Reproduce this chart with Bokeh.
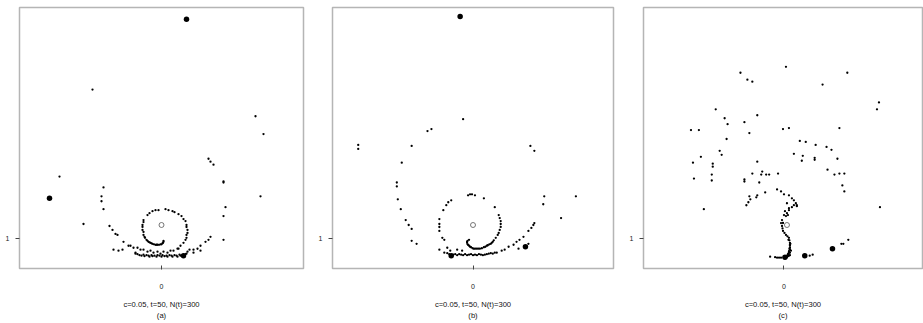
from bokeh.plotting import figure
from bokeh.layouts import row
from bokeh.models import FixedTicker, Range1d
from bokeh.embed import file_html
from bokeh.resources import INLINE

# ---------------- data (x, y) ----------------
labels = ["c=0.05, t=50, N(t)=300\n(a)", "c=0.05, t=50, N(t)=300\n(b)", "c=0.05, t=50, N(t)=300\n(c)"]
x_ticks = [0]
y_ticks = [1]

a_small = [
    (-0.69, 2.51), (0.94, 2.24), (1.02, 2.06), (0.47, 1.81), (0.49, 1.78), (0.52, 1.75), (-1.02, 1.63),
    (0.62, 1.58), (0.62, 1.57), (-0.58, 1.52), (-0.60, 1.43), (-0.60, 1.38), (-0.58, 1.30), (0.99, 1.43),
    (0.64, 1.32), (0.62, 1.23), (-0.78, 1.15), (0.62, 0.99),
    (-0.52, 1.13), (-0.49, 1.09), (-0.46, 1.05), (-0.44, 1.04), (-0.38, 0.97), (-0.33, 0.93), (-0.48, 0.89),
    (-0.43, 0.88), (-0.39, 0.89), (-0.31, 0.93), (-0.28, 0.91), (-0.26, 0.86), (-0.21, 0.89), (-0.14, 0.87),
    (-0.08, 0.86), (-0.01, 0.85), (0.06, 0.86), (0.12, 0.88), (0.17, 0.90),
    (0.49, 1.02), (0.47, 0.99), (0.44, 0.97), (0.39, 0.93), (0.36, 0.90), (0.32, 0.89), (0.32, 0.86),
    (0.39, 0.88), (0.26, 0.87), (0.28, 0.89),
    (-0.14, 1.24), (-0.12, 1.26), (-0.09, 1.28), (-0.06, 1.29), (-0.03, 1.29), (0.04, 1.30), (0.07, 1.29),
    (0.11, 1.28), (0.13, 1.27), (0.17, 1.25), (0.20, 1.23), (0.22, 1.20), (0.24, 1.18), (0.25, 1.14),
    (0.25, 1.12), (0.26, 1.09), (0.26, 1.06), (0.25, 1.04), (0.25, 1.01), (0.24, 0.99), (0.22, 0.96),
    (0.19, 0.93), (0.16, 0.90), (0.09, 0.88), (0.02, 0.87), (-0.04, 0.87), (-0.11, 0.88), (-0.18, 0.89),
    (-0.24, 0.91),
    (-0.18, 1.19), (-0.18, 1.17), (-0.19, 1.14), (-0.19, 1.12), (-0.19, 1.09), (-0.18, 1.07), (-0.18, 1.04),
    (-0.17, 1.02), (-0.15, 0.99), (-0.13, 0.97), (-0.11, 0.96), (-0.09, 0.95), (-0.06, 0.94), (-0.04, 0.94),
    (-0.01, 0.945), (0.01, 0.955), (0.02, 0.97), (0.02, 0.98), (-0.165, 1.01), (-0.14, 0.98), (-0.12, 0.965),
    (-0.10, 0.955), (-0.075, 0.945), (-0.05, 0.94), (-0.025, 0.94), (0.0, 0.945), (0.015, 0.96),
    (-0.26, 0.85), (-0.24, 0.845), (-0.22, 0.835), (-0.20, 0.83), (-0.18, 0.84), (-0.17, 0.825), (-0.15, 0.835),
    (-0.13, 0.83), (-0.12, 0.82), (-0.10, 0.835), (-0.09, 0.825), (-0.07, 0.83), (-0.05, 0.82), (-0.04, 0.835),
    (-0.02, 0.83), (0.0, 0.82), (0.01, 0.835), (0.03, 0.825), (0.05, 0.83), (0.06, 0.82), (0.08, 0.835),
    (0.10, 0.83), (0.11, 0.82), (0.13, 0.835), (0.15, 0.83), (0.16, 0.82), (0.18, 0.84), (0.19, 0.83),
    (0.21, 0.825), (0.23, 0.835), (0.24, 0.845), (0.25, 0.85),
]
a_big = [(0.25, 3.22), (-1.12, 1.41), (0.22, 0.83)]
a_ref = [(0.0, 1.14)]

b_small = [
    (-0.10, 2.21), (-0.46, 2.09), (-0.42, 2.11), (-1.16, 1.95), (-1.16, 1.91), (-0.62, 1.94), (0.58, 1.94),
    (0.62, 1.89), (-0.72, 1.77), (-0.77, 1.57), (-0.77, 1.53), (-0.76, 1.40), (-0.73, 1.30), (-0.68, 1.19),
    (-0.65, 1.14), (-0.62, 1.10), (-0.62, 0.98), (-0.57, 0.95), (0.72, 1.43), (1.04, 1.43), (0.71, 1.35),
    (0.89, 1.21), (0.62, 1.16), (0.61, 1.14),
    (0.56, 1.08), (0.51, 1.02), (0.47, 0.99), (0.44, 0.97), (0.41, 0.94), (0.36, 0.92), (0.32, 0.89),
    (0.29, 0.88), (0.46, 0.90), (0.56, 0.95), (0.24, 0.86), (0.59, 1.11),
    (-0.05, 1.44), (-0.03, 1.45), (-0.01, 1.45), (0.02, 1.44), (0.11, 1.41), (0.22, 1.32),
    (0.26, 1.24), (0.27, 1.21), (0.28, 1.18), (0.28, 1.15), (0.28, 1.12), (0.27, 1.09), (0.26, 1.06),
    (0.25, 1.04), (0.23, 1.01),
    (0.20, 0.97), (0.19, 0.96), (0.165, 0.945), (0.14, 0.93), (0.11, 0.915), (0.07, 0.90), (0.04, 0.90),
    (0.01, 0.90), (-0.02, 0.915), (-0.04, 0.93), (-0.055, 0.945), (-0.06, 0.96), (-0.055, 0.98), (-0.04, 0.99),
    (0.18, 0.95), (0.15, 0.935), (0.125, 0.92), (0.09, 0.905), (0.055, 0.90), (0.025, 0.90), (-0.005, 0.905),
    (-0.03, 0.92), (-0.05, 0.94), (-0.06, 0.97), (0.21, 0.985),
    (-0.22, 1.39), (-0.25, 1.37), (-0.27, 1.34), (-0.30, 1.29), (-0.34, 1.20), (-0.34, 1.15), (-0.34, 1.12),
    (-0.34, 1.08), (-0.31, 1.01), (-0.29, 0.99),
    (-0.34, 0.89), (-0.29, 0.86), (-0.23, 0.88), (-0.16, 0.89), (-0.11, 0.88), (-0.26, 0.91),
    (-0.26, 0.855), (-0.24, 0.845), (-0.20, 0.84), (-0.18, 0.845), (-0.16, 0.835), (-0.14, 0.845), (-0.12, 0.84),
    (-0.10, 0.835), (-0.08, 0.845), (-0.06, 0.835), (-0.04, 0.84), (-0.02, 0.845), (0.0, 0.835), (0.02, 0.84),
    (0.04, 0.835), (0.06, 0.845), (0.08, 0.84), (0.10, 0.835), (0.12, 0.84), (0.14, 0.845), (0.16, 0.85),
    (0.18, 0.855), (0.20, 0.85), (0.22, 0.86),
]
b_big = [(-0.13, 3.25), (-0.22, 0.83), (0.53, 0.92)]
b_ref = [(0.0, 1.14)]

c_small = [
    (0.02, 2.74), (-0.44, 2.68), (0.64, 2.68), (-0.37, 2.61), (-0.32, 2.59), (0.39, 2.56), (0.96, 2.38),
    (0.94, 2.31), (-0.69, 2.31), (-0.60, 2.22), (-0.27, 2.25), (-0.57, 2.16), (-0.40, 2.18), (-0.94, 2.10),
    (-0.86, 2.10), (-0.35, 2.07), (-0.01, 2.11), (0.05, 2.12), (0.56, 2.12), (-0.58, 2.01), (0.16, 1.99),
    (0.22, 1.98), (0.32, 1.95), (0.43, 1.93), (0.48, 1.90), (-0.65, 1.89), (-0.63, 1.85), (-0.84, 1.83),
    (0.10, 1.86), (0.19, 1.84), (0.31, 1.82), (0.31, 1.80), (0.54, 1.81), (0.18, 1.79), (-0.92, 1.77),
    (-0.72, 1.76), (-0.72, 1.73), (-0.27, 1.78), (0.44, 1.70), (-0.22, 1.68), (-0.32, 1.66), (-0.23, 1.65),
    (-0.18, 1.65), (-0.15, 1.65), (-0.06, 1.66), (0.51, 1.65), (0.56, 1.66), (0.61, 1.66), (-0.73, 1.65),
    (-0.91, 1.61), (-0.73, 1.59), (-0.40, 1.60), (-0.40, 1.58), (-0.25, 1.57), (-0.81, 1.30), (0.97, 1.32),
    (0.59, 1.54), (0.61, 1.48),
    (-0.19, 1.47), (-0.07, 1.50), (-0.03, 1.48), (0.00, 1.45), (0.05, 1.44), (0.08, 1.41), (0.10, 1.39),
    (0.12, 1.36), (0.10, 1.34), (0.13, 1.33), (0.08, 1.32), (0.05, 1.29), (0.03, 1.26), (0.00, 1.24),
    (0.02, 1.23), (-0.35, 1.43), (-0.34, 1.40), (-0.36, 1.37), (-0.38, 1.34), (-0.28, 1.42), (-0.27, 1.44),
    (0.13, 1.34), (0.03, 1.36), (0.05, 1.31), (0.01, 1.28), (0.04, 1.24), (-0.02, 1.19), (-0.03, 1.16),
    (-0.01, 1.16),
    (-0.02, 1.13), (-0.015, 1.105), (-0.01, 1.08), (0.005, 1.06), (0.02, 1.04), (0.035, 1.025), (0.05, 1.01),
    (0.055, 0.985), (0.06, 0.96), (0.06, 0.945), (0.06, 0.93), (0.06, 0.91), (0.06, 0.89), (0.05, 0.875),
    (0.05, 0.86), (0.04, 0.845), (0.03, 0.83), (0.045, 0.99), (0.065, 0.95), (0.055, 0.90), (0.07, 0.88),
    (0.06, 0.86), (0.045, 0.85),
    (0.00, 0.81), (-0.05, 0.81), (-0.09, 0.815), (-0.14, 0.82), (0.02, 0.82), (0.04, 0.825), (0.05, 0.83),
    (0.03, 0.815), (-0.03, 0.81), (-0.07, 0.81), (0.06, 0.835),
    (0.26, 0.83), (0.29, 0.84), (0.58, 0.95), (0.60, 0.95), (0.65, 0.99),
]
c_big = [(0.21, 0.83), (0.49, 0.90), (0.01, 0.815)]
c_ref = [(0.03, 1.14)]

x_ranges = [(-1.42, 1.42), (-1.42, 1.42), (-1.42, 1.40)]
y_range = (0.70, 3.34)

FONT = "Liberation Sans"


def make_panel(small, big, ref, label, xr, left_border, frame_w, right_border):
    p = figure(width=left_border + frame_w + right_border, height=323,
               x_range=Range1d(*xr), y_range=Range1d(*y_range),
               output_backend="svg", toolbar_location=None,
               min_border_left=left_border, min_border_right=right_border,
               min_border_top=7, min_border_bottom=52)
    p.grid.visible = False
    p.outline_line_color = "#b5b5b5"
    p.outline_line_width = 1.5
    p.background_fill_color = "white"
    p.border_fill_color = "white"

    sx, sy = zip(*small)
    p.scatter(list(sx), list(sy), size=2.3, color="black", line_width=0)
    bx, by = zip(*big)
    p.scatter(list(bx), list(by), size=5.5, color="black", line_width=0)
    rx, ry = zip(*ref)
    p.scatter(list(rx), list(ry), size=5, fill_color=None, line_color="#555555", line_width=0.8)

    for ax in (p.xaxis[0], p.yaxis[0]):
        ax.axis_line_color = None
        ax.minor_tick_line_color = None
        ax.major_tick_line_color = "#444444"
        ax.major_label_text_font = FONT
        ax.major_label_text_font_size = "7px"
        ax.major_label_text_color = "#222222"

    p.xaxis.ticker = FixedTicker(ticks=x_ticks)
    p.yaxis.ticker = FixedTicker(ticks=y_ticks)
    p.yaxis.major_tick_out = 4
    p.yaxis.major_tick_in = 0
    p.yaxis.major_label_standoff = 6
    p.xaxis.major_tick_out = 1
    p.xaxis.major_tick_in = 3
    p.xaxis.major_label_standoff = 14

    p.xaxis.axis_label = label
    p.xaxis.axis_label_text_font = FONT
    p.xaxis.axis_label_text_font_size = "7.6px"
    p.xaxis.axis_label_text_line_height = 1.3
    p.xaxis.axis_label_text_font_style = "normal"
    p.xaxis.axis_label_text_color = "#111111"
    p.xaxis.axis_label_standoff = 8
    return p


pa = make_panel(a_small, a_big, a_ref, labels[0], x_ranges[0], 19, 284, 12)
pb = make_panel(b_small, b_big, b_ref, labels[1], x_ranges[1], 14, 284, 13)
pc = make_panel(c_small, c_big, c_ref, labels[2], x_ranges[2], 14, 282, 1)

layout = row(pa, pb, pc, spacing=0)
open("out.html", "w").write(file_html(layout, INLINE))
